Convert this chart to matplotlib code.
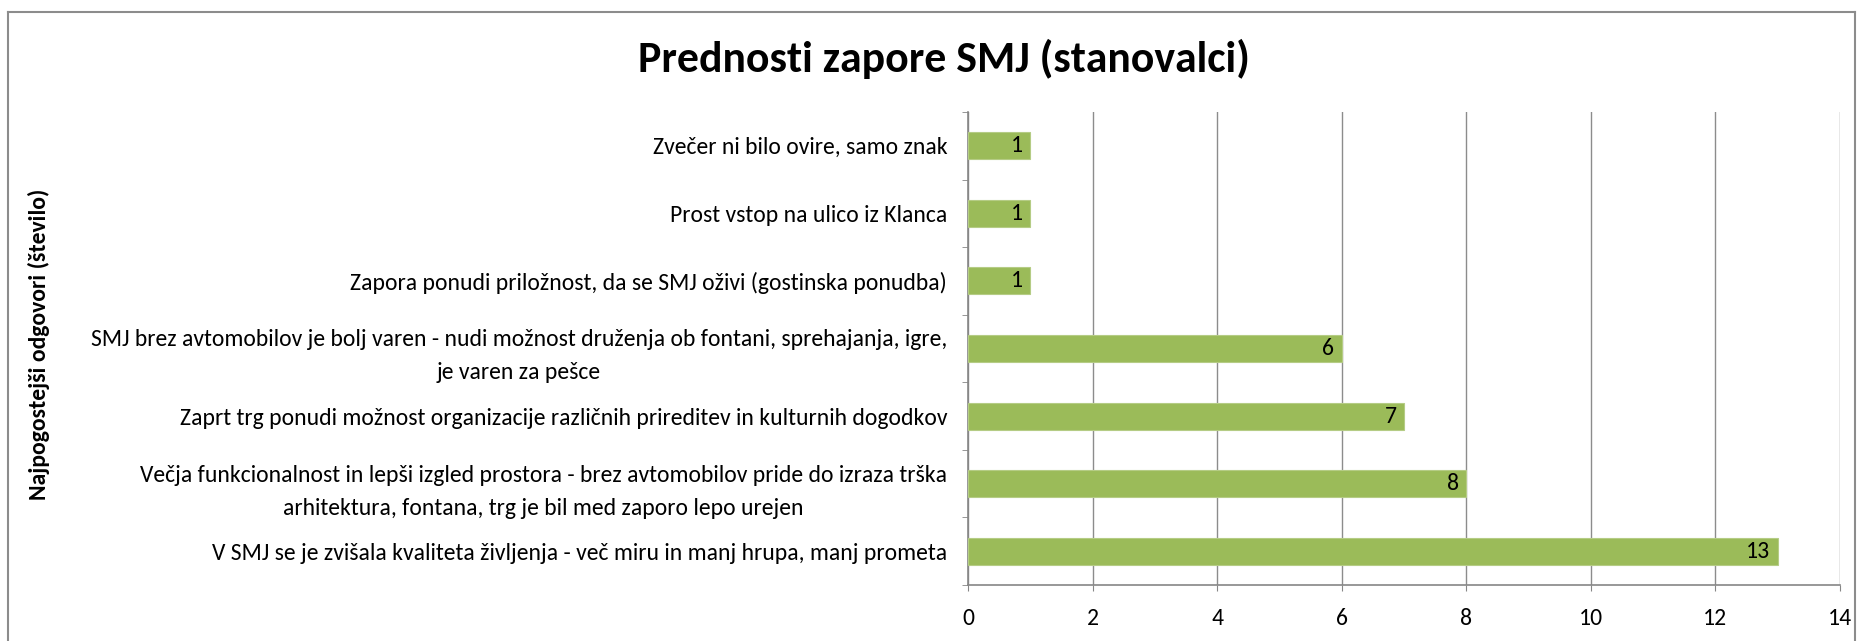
import matplotlib
matplotlib.use("Agg")
import matplotlib.pyplot as plt
from matplotlib import font_manager as fm
from matplotlib.lines import Line2D

names = {f.name for f in fm.fontManager.ttflist}
FONT = "DejaVu Sans"
for cand in ["Carlito", "Calibri", "Lato", "Open Sans"]:
    if cand in names:
        FONT = cand
        break
plt.rcParams['font.family'] = [FONT, 'DejaVu Sans']

categories = [
    "V SMJ se je zvišala kvaliteta življenja - več miru in manj hrupa, manj prometa",
    "Večja funkcionalnost in lepši izgled prostora - brez avtomobilov pride do izraza trška\narhitektura, fontana, trg je bil med zaporo lepo urejen",
    "Zaprt trg ponudi možnost organizacije različnih prireditev in kulturnih dogodkov",
    "SMJ brez avtomobilov je bolj varen - nudi možnost druženja ob fontani, sprehajanja, igre,\nje varen za pešce",
    "Zapora ponudi priložnost, da se SMJ oživi (gostinska ponudba)",
    "Prost vstop na ulico iz Klanca",
    "Zvečer ni bilo ovire, samo znak",
]
values = [13, 8, 7, 6, 1, 1, 1]
xticks = [0, 2, 4, 6, 8, 10, 12, 14]
title = "Prednosti zapore SMJ (stanovalci)"
ylabel = "Najpogostejši odgovori (število)"

FS = 17
W, H = 1861, 641
fig = plt.figure(figsize=(W / 100, H / 100), dpi=100)
L, R, T, B = 968, 1840, 112, 585
ax = fig.add_axes([L / W, 1 - B / H, (R - L) / W, (B - T) / H])

pos = list(range(len(values)))
bars = ax.barh(pos, values, height=0.4, color="#9BBB59", edgecolor="#B5CC85", linewidth=0.8, zorder=3)
ax.set_xlim(0, 14)
ax.set_ylim(-0.5, len(values) - 0.5)
ax.set_xticks(xticks)
ax.set_xticklabels([str(t) for t in xticks], fontsize=FS)
ax.set_yticks(pos)
ax.set_yticklabels(categories, fontsize=FS, multialignment="center", linespacing=1.7)
ax.set_yticks([p + 0.5 for p in pos[:-1]] + [-0.5, len(values) - 0.5], minor=True)
ax.tick_params(axis="y", which="major", length=0, pad=15)
ax.tick_params(axis="y", which="minor", length=4.5, color="#868686", direction="out")
ax.tick_params(axis="x", which="major", length=4.5, color="#868686", pad=12, direction="out")
ax.grid(axis="x", color="#8C8C8C", linewidth=1.0, zorder=0)
for s in ["top", "right"]:
    ax.spines[s].set_visible(False)
for s in ["left", "bottom"]:
    ax.spines[s].set_color("#868686")
    ax.spines[s].set_linewidth(1.2)

for b, v in zip(bars, values):
    ax.text(v - 0.12, b.get_y() + b.get_height() / 2, str(v), ha="right", va="center",
            fontsize=FS, color="black", zorder=4)

fig.text(944 / W, 1 - 59 / H, title, ha="center", va="center", fontsize=31.5, fontweight="bold")
fig.text(39 / W, 1 - 344 / H, ylabel, ha="center", va="center", rotation=90, fontsize=FS, fontweight="bold")

# chart frame
fig.add_artist(Line2D([8 / W, 1855 / W], [1 - 12 / H, 1 - 12 / H], transform=fig.transFigure, color="#8C8C8C", lw=1.5))
fig.add_artist(Line2D([8 / W, 8 / W], [1 - 12 / H, 0], transform=fig.transFigure, color="#8C8C8C", lw=1.5))
fig.add_artist(Line2D([1855 / W, 1855 / W], [1 - 12 / H, 0], transform=fig.transFigure, color="#8C8C8C", lw=1.5))

fig.savefig("out.png", dpi=100)
